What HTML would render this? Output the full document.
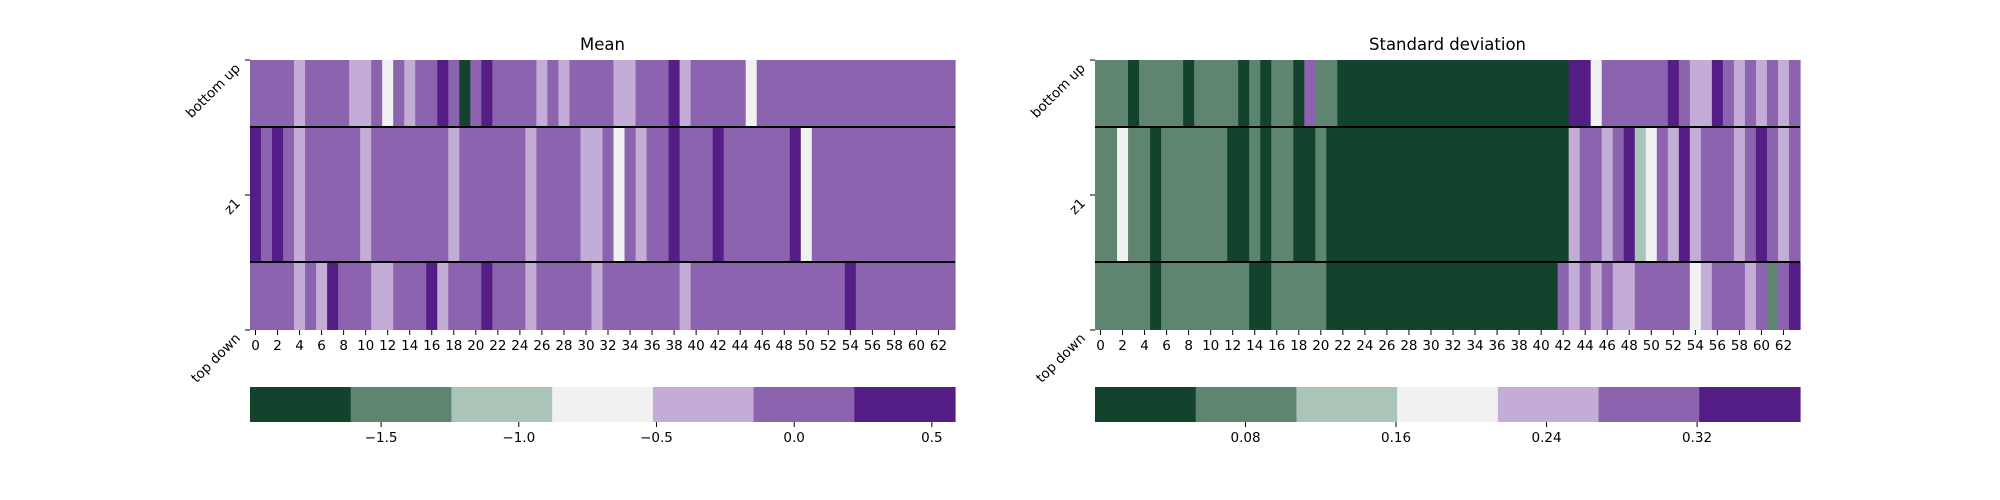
<!DOCTYPE html>
<html><head><meta charset="utf-8"><style>
html,body{margin:0;padding:0;background:#fff;width:2000px;height:500px;overflow:hidden}
svg text{font-family:"DejaVu Sans","Liberation Sans",sans-serif;fill:#000}
</style></head><body>
<svg id="chart" width="2000" height="500" xmlns="http://www.w3.org/2000/svg"></svg>
<script>
const rowLabels = ["bottom up","z1","top down"];
const palette = ["#14432d","#5e8570","#aac4b7","#f1f1f1","#c3acd6","#8b63ae","#551e87"];
// Color-bin index per cell (0=dark green ... 6=dark purple)
const meanBottomUp = [5,5,5,5,4,5,5,5,5,4,4,5,3,5,4,5,5,6,5,0,5,6,5,5,5,5,4,5,4,5,5,5,5,4,4,5,5,5,6,4,5,5,5,5,5,3,5,5,5,5,5,5,5,5,5,5,5,5,5,5,5,5,5,5];
const meanZ1 = [6,5,6,5,4,5,5,5,5,5,4,5,5,5,5,5,5,5,4,5,5,5,5,5,5,4,5,5,5,5,4,4,5,3,5,4,5,5,6,5,5,5,6,5,5,5,5,5,5,6,3,5,5,5,5,5,5,5,5,5,5,5,5,5];
const meanTopDown = [5,5,5,5,4,5,4,6,5,5,5,4,4,5,5,5,6,4,5,5,5,6,5,5,5,4,5,5,5,5,5,4,5,5,5,5,5,5,5,4,5,5,5,5,5,5,5,5,5,5,5,5,5,5,6,5,5,5,5,5,5,5,5,5];
const stdBottomUp = [1,1,1,0,1,1,1,1,0,1,1,1,1,0,1,0,1,1,0,5,1,1,0,0,0,0,0,0,0,0,0,0,0,0,0,0,0,0,0,0,0,0,0,6,6,3,5,5,5,5,5,5,6,5,4,4,6,5,4,5,4,5,4,5];
const stdZ1 = [1,1,3,1,1,0,1,1,1,1,1,1,0,0,1,0,1,1,0,0,1,0,0,0,0,0,0,0,0,0,0,0,0,0,0,0,0,0,0,0,0,0,0,4,5,5,4,5,6,2,3,5,4,6,4,5,5,5,4,5,6,5,4,5];
const stdTopDown = [1,1,1,1,1,0,1,1,1,1,1,1,1,1,0,0,1,1,1,1,1,0,0,0,0,0,0,0,0,0,0,0,0,0,0,0,0,0,0,0,0,0,5,4,5,4,5,4,4,5,5,5,5,5,3,4,5,5,5,4,5,1,5,6];
const meanTicks = [-1.5,-1.0,-0.5,0.0,0.5];
const meanTickLabels = ["\u22121.5","\u22121.0","\u22120.5","0.0","0.5"];
const meanRange = [-1.976,0.584];
const stdTicks = [0.08,0.16,0.24,0.32];
const stdTickLabels = ["0.08","0.16","0.24","0.32"];
const stdRange = [0.0,0.3747];

const svg = document.getElementById('chart');
const NS = "http://www.w3.org/2000/svg";
function mk(tag, attrs, parent){const e=document.createElementNS(NS,tag);for(const k in attrs)e.setAttribute(k,attrs[k]);(parent||svg).appendChild(e);return e;}

const rowEdges = [60,127,262,330];
function panel(x0, title, rows, ticks, tickLabels, range, key){
  const W = 705, n = 64, cw = W/n;
  const g = mk('g',{});
  
  
  const xs = i => x0 + i*cw;
  const t = mk('text',{x:x0+W/2,y:50,'font-size':16.5,'text-anchor':'middle'},g);
  t.textContent = title;
  
  
  rows.forEach((row,r)=>{
    row.forEach((v,i)=>{
      const c = mk('rect',{x:xs(i),y:rowEdges[r],width:cw+0.6,height:rowEdges[r+1]-rowEdges[r],fill:palette[v]},g);
      
      
    });
  });
  [127,262].forEach(y=>{
    const l = mk('line',{x1:x0,x2:x0+W,y1:y,y2:y,stroke:'#000','stroke-width':2},g);
    
    
  });
  for(let i=0;i<n;i+=2){
    const cx = xs(i)+cw/2;
    mk('line',{x1:cx,x2:cx,y1:330,y2:335,stroke:'#000','stroke-width':1},g);
    const tl = mk('text',{x:cx,y:350,'font-size':13.5,'text-anchor':'middle'},g);
    tl.textContent = i;
    
    
  }
  [60,195,330].forEach((y,k)=>{
    mk('line',{x1:x0-5,x2:x0,y1:y,y2:y,stroke:'#000','stroke-width':1},g);
    const ax = x0-9, ay = y+9;
    const yl = mk('text',{x:ax,y:ay,'font-size':13.5,'text-anchor':'end',transform:`rotate(-45 ${ax} ${ay})`},g);
    yl.textContent = rowLabels[k];
    
    
  });
  const cb = mk('g',{},g);
  
  
  const sw = W/palette.length;
  palette.forEach((c,i)=>mk('rect',{x:x0+i*sw,y:387,width:sw+0.6,height:35,fill:c},cb));
  const cx = v => x0 + (v-range[0])/(range[1]-range[0])*W;
  ticks.forEach((v,i)=>{
    mk('line',{x1:cx(v),x2:cx(v),y1:422,y2:427,stroke:'#000','stroke-width':1},cb);
    const tt = mk('text',{x:cx(v),y:442,'font-size':13.5,'text-anchor':'middle'},cb);
    tt.textContent = tickLabels[i];
    
    
  });
}
panel(250,"Mean",[meanBottomUp,meanZ1,meanTopDown],meanTicks,meanTickLabels,meanRange,'mean');
panel(1095,"Standard deviation",[stdBottomUp,stdZ1,stdTopDown],stdTicks,stdTickLabels,stdRange,'std');
</script>
</body></html>
